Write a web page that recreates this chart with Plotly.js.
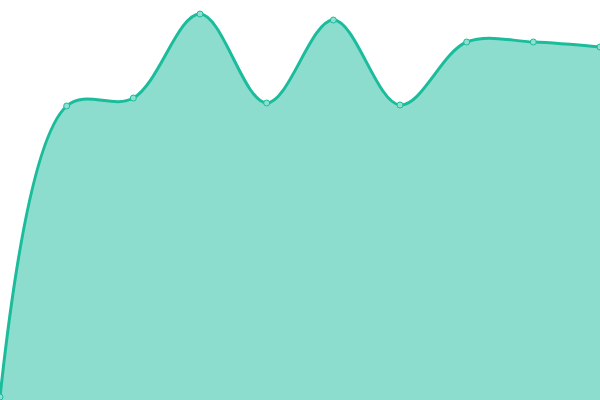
<!DOCTYPE html>
<html>
<head>
<meta charset="utf-8">
<script src="https://cdn.plot.ly/plotly-3.0.1.min.js"></script>
<style>html,body{margin:0;padding:0;background:#fff;}#chart{width:600px;height:400px;}</style>
</head>
<body>
<div id="chart"></div>
<script>
// one area series, spline, no axes
var xs = [0, 1, 2, 3, 4, 5, 6, 7, 8, 9];
var ys = [3, 294, 302, 386, 297, 380, 295, 358, 358, 353];

var trace = {
    x: xs,
    y: ys,
    type: "scatter",
    mode: "lines+markers",
    fill: "tozeroy",
    fillcolor: "rgba(26,188,156,0.5)",
    line: { color: "#1abc9c", width: 3, shape: "spline", smoothing: 1 },
    marker: { size: 6, color: "#8ee0cf", line: { color: "#1abc9c", width: 1 } },
    cliponaxis: false
};

var layout = {
    width: 600, height: 400,
    margin: { l: 0, r: 0, t: 0, b: 0 },
    showlegend: false,
    paper_bgcolor: "#fff", plot_bgcolor: "#fff",
    xaxis: { range: [0, 9], visible: false, fixedrange: true },
    yaxis: { range: [0, 400], visible: false, fixedrange: true }
};

Plotly.newPlot("chart", [trace], layout, { displayModeBar: false, staticPlot: true });
</script>
</body>
</html>
